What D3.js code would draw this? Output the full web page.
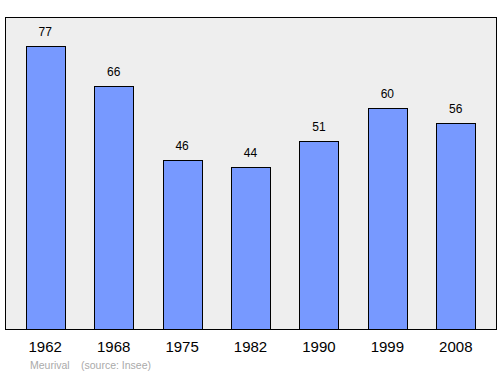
<!DOCTYPE html>
<html>
<head>
<meta charset="utf-8">
<script src="https://cdn.jsdelivr.net/npm/d3@7"></script>
<style>
  body { margin: 0; background: #fff; }
  text { font-family: "Liberation Sans", Arial, sans-serif; }
</style>
</head>
<body>
<script>
  const years = ["1962", "1968", "1975", "1982", "1990", "1999", "2008"];
  const population = [77, 66, 46, 44, 51, 60, 56];

  let width = 500, height = 374;
  let svg = d3.select("body").append("svg")
    .attr("width", width).attr("height", height);

  // plot frame
  svg.append("rect")
    .attr("x", 5.5).attr("y", 17.5)
    .attr("width", 491).attr("height", 312)
    .style("fill", "#eeeeee")
    .style("stroke", "black")
    .style("stroke-width", 1);

  let x = d3.scaleBand()
    .domain(years)
    .range([11, 490])
    .paddingInner(0.43)
    .paddingOuter(0.215);

  let y = d3.scaleLinear()
    .domain([0, 84.6])
    .range([329.5, 17.5]);

  svg.append("g")
    .selectAll("rect")
    .data(population)
    .enter()
    .append("rect")
      .attr("x", (d, i) => Math.round(x(years[i])) + 0.5)
      .attr("y", d => Math.round(y(d)) + 0.5)
      .attr("width", Math.round(x.bandwidth()))
      .attr("height", d => y(0) - Math.round(y(d)) - 0.5)
      .style("fill", "#7799ff")
      .style("stroke", "black")
      .style("stroke-width", 1);

  // value labels
  svg.append("g")
    .selectAll("text")
    .data(population)
    .enter()
    .append("text")
      .attr("x", (d, i) => x(years[i]) + x.bandwidth() / 2)
      .attr("y", d => y(d) - 10)
      .attr("text-anchor", "middle")
      .style("font-size", "12px")
      .style("fill", "black")
      .text(d => d);

  // x axis labels
  let xAxis = d3.axisBottom(x).tickSize(0).tickPadding(11);
  let gx = svg.append("g")
    .attr("transform", "translate(0,330)")
    .call(xAxis);
  gx.select(".domain").remove();
  gx.selectAll("text")
    .style("font-size", "15px")
    .style("font-family", "Liberation Sans, Arial, sans-serif")
    .style("fill", "black");

  // footer
  svg.append("text")
    .attr("x", 30).attr("y", 368.5)
    .style("font-size", "10.5px")
    .style("fill", "#aaaaaa")
    .text("Meurival");
  svg.append("text")
    .attr("x", 81).attr("y", 368.5)
    .style("font-size", "10.5px")
    .style("fill", "#aaaaaa")
    .text("(source: Insee)");
</script>
</body>
</html>
